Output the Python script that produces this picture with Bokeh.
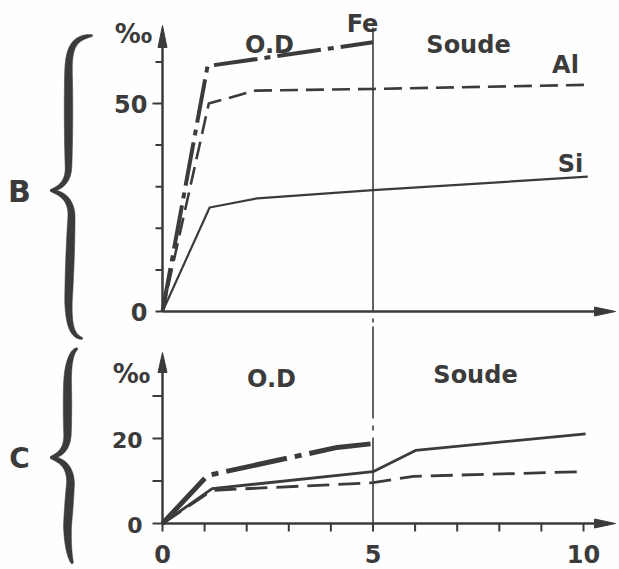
import numpy as np
from bokeh.plotting import figure
from bokeh.models import Range1d
from bokeh.core.properties import value
from bokeh.embed import file_html
from bokeh.resources import INLINE

# ---------------------------------------------------------------- data
# Panel B (per mille) versus treatment step
b_fe_x = [0, 1.07, 5]
b_fe_y = [0, 59, 64.7]
b_al_x = [0, 1.1, 2.2, 5, 10.1]
b_al_y = [0, 50, 53.1, 53.5, 54.5]
b_si_x = [0, 1.12, 2.25, 5, 10.1]
b_si_y = [0, 25, 27.2, 29.2, 32.4]

# Panel C (per mille) versus treatment step
c_fe_x = [0, 1.07, 4.15, 5]
c_fe_y = [0, 11.3, 17.9, 18.8]
c_al_x = [0, 1.18, 5, 5.96, 10]
c_al_y = [0, 7.8, 9.6, 11.1, 12.2]
c_si_x = [0, 1.18, 5, 6.01, 10.05]
c_si_y = [0, 8.2, 12.2, 17.2, 21.1]

# phase boundary (O.D | Soude)
boundary_x = 5

# ticks and tick labels
b_yticks = [0, 10, 20, 30, 40, 50, 60]
b_ytick_labels = ["0", "50"]
b_ytick_label_vals = [0, 50]
c_yticks = [0, 10, 20, 30]
c_ytick_labels = ["0", "20"]
c_ytick_label_vals = [0, 20]
c_xticks = [0, 1, 2, 3, 4, 5, 6, 7, 8, 9, 10]
c_xtick_labels = ["0", "5", "10"]
c_xtick_label_vals = [0, 5, 10]

# ---------------------------------------------------------------- layout
W, H = 619, 569
X0, SX = 162.0, 42.1        # pixel of x=0, pixels per unit
Y0B, SYB = 311.0, 4.16      # panel B baseline, pixels per unit
Y0C, SYC = 523.0, 4.25      # panel C baseline, pixels per unit
INK = "#3b3b3b"
FONT = value("DejaVu Sans")

def xp(px):
    return (px - X0) / SX

def yb(py):
    return (Y0B - py) / SYB

def yc(py):
    return (Y0C - py) / SYC

p = figure(width=W, height=H, output_backend="svg", toolbar_location=None,
           x_axis_type=None, y_axis_type=None, min_border=0,
           x_range=Range1d(-X0 / SX, (W - X0) / SX),
           y_range=Range1d((Y0B - H) / SYB, Y0B / SYB))
p.extra_y_ranges = {"c": Range1d((Y0C - H) / SYC, Y0C / SYC)}
p.outline_line_color = None
p.background_fill_color = "#fefefe"
p.border_fill_color = "#fefefe"

x_tip = xp(615)
x_base = xp(594)
b_ytop, b_ybase = yb(25), yb(47)
c_ytop, c_ybase = yc(352), yc(372)

# ---------------------------------------------------------------- axes
# panel B axes
p.segment(x0=[0, 0], y0=[0, 0], x1=[x_base, 0], y1=[0, b_ybase],
          line_color=INK, line_width=2.5)
# panel C axes
p.segment(x0=[0, 0], y0=[0, 0], x1=[x_base, 0], y1=[0, c_ybase],
          line_color=INK, line_width=2.5, y_range_name="c")

hw_x = 4.5 / SX
p.patches(xs=[[0 - hw_x, 0, 0 + hw_x], [x_base, x_tip, x_base]],
          ys=[[b_ybase, b_ytop, b_ybase], [4.5 / SYB, 0, -4.5 / SYB]],
          fill_color=INK, line_color=INK, line_width=1)
p.patches(xs=[[0 - hw_x, 0, 0 + hw_x], [x_base, x_tip, x_base]],
          ys=[[c_ybase, c_ytop, c_ybase], [4.5 / SYC, 0, -4.5 / SYC]],
          fill_color=INK, line_color=INK, line_width=1, y_range_name="c")

# tick marks
bt_len = [10 / SX if v == 50 else 7 / SX for v in b_yticks]
p.segment(x0=[-l for l in bt_len], y0=b_yticks, x1=[0] * len(b_yticks),
          y1=b_yticks, line_color=INK, line_width=2)
p.segment(x0=[-10 / SX] * len(c_yticks), y0=c_yticks,
          x1=[0] * len(c_yticks), y1=c_yticks, line_color=INK, line_width=2,
          y_range_name="c")
p.segment(x0=c_xticks, y0=[0] * len(c_xticks), x1=c_xticks,
          y1=[-8 / SYC] * len(c_xticks), line_color=INK, line_width=2,
          y_range_name="c")

# tick labels
p.text(x=[0] * 2, y=b_ytick_label_vals, text=b_ytick_labels, x_offset=-15,
       text_align="right", text_baseline="middle", text_font=FONT,
       text_font_style="bold", text_font_size="24px", text_color=INK)
p.text(x=[0] * 2, y=c_ytick_label_vals, text=c_ytick_labels, x_offset=-20,
       y_offset=1, text_align="right", text_baseline="middle", text_font=FONT,
       text_font_style="bold", text_font_size="22px", text_color=INK,
       y_range_name="c")
p.text(x=c_xtick_label_vals, y=[0] * 3, text=c_xtick_labels, y_offset=30,
       text_align="center", text_baseline="middle", text_font=FONT,
       text_font_style="bold", text_font_size="24px", text_color=INK,
       y_range_name="c")

# ---------------------------------------------------------------- boundary
p.segment(x0=[boundary_x], y0=[0], x1=[boundary_x], y1=[yb(27)],
          line_color=INK, line_width=1.6)
p.segment(x0=[boundary_x] * 4,
          y0=[yc(318), yc(326), yc(425), yc(437)],
          x1=[boundary_x] * 4,
          y1=[yc(322), yc(418), yc(430), 0],
          line_color=INK, line_width=1.6, y_range_name="c")

# ---------------------------------------------------------------- series
p.line(b_si_x, b_si_y, line_color=INK, line_width=2.2, line_join="round")
p.line(b_al_x, b_al_y, line_color=INK, line_width=2.6, line_dash="18 8",
       line_join="round")
p.line(b_fe_x, b_fe_y, line_color=INK, line_width=4, line_dash="44 7 6 7",
       line_join="round")

p.line(c_si_x, c_si_y, line_color=INK, line_width=2.8, line_join="round",
       y_range_name="c")
p.line(c_al_x, c_al_y, line_color=INK, line_width=2.8, line_dash="22 9",
       line_join="round", y_range_name="c")
p.line(c_fe_x, c_fe_y, line_color=INK, line_width=5, line_dash="62 8 7 8",
       line_join="round", y_range_name="c")

# ---------------------------------------------------------------- labels
def label(px, py, txt, size, align="center"):
    p.text(x=[xp(px)], y=[yb(py)], text=[txt], text_align=align,
           text_baseline="middle", text_font=FONT, text_font_style="bold",
           text_font_size=size, text_color=INK)

label(269, 44, "O.D", "24px")
label(468, 44, "Soude", "24px")
label(362, 23, "Fe", "24px")
label(565, 64, "Al", "24px")
label(570, 163, "Si", "24px")
label(133, 33, "‰", "26px")
label(271, 378, "O.D", "24px")
label(475, 374, "Soude", "24px")
label(131, 373, "‰", "26px")
label(19, 191, "B", "30px")
label(19, 458, "C", "28px")

# ---------------------------------------------------------------- braces
def cubic(p0, p1, p2, p3, n=30):
    t = np.linspace(0, 1, n)[:, None]
    p0, p1, p2, p3 = (np.array(q, float) for q in (p0, p1, p2, p3))
    return ((1 - t) ** 3 * p0 + 3 * (1 - t) ** 2 * t * p1
            + 3 * (1 - t) * t ** 2 * p2 + t ** 3 * p3)

def line_pts(a, b, n=20):
    t = np.linspace(0, 1, n)[:, None]
    return (1 - t) * np.array(a, float) + t * np.array(b, float)

def ribbon(path, wmax):
    d = np.diff(path, axis=0)
    s = np.concatenate([[0], np.cumsum(np.hypot(d[:, 0], d[:, 1]))])
    s = s / s[-1]
    tx, ty = np.gradient(path[:, 0]), np.gradient(path[:, 1])
    nrm = np.hypot(tx, ty)
    nx, ny = -ty / nrm, tx / nrm
    w = 1.4 + (wmax - 1.4) * np.sin(np.pi * s) ** 0.5
    left = path + np.c_[nx, ny] * w[:, None] / 2
    right = path - np.c_[nx, ny] * w[:, None] / 2
    poly = np.vstack([left, right[::-1]])
    return [xp(v) for v in poly[:, 0]], [yb(v) for v in poly[:, 1]]

def brace(top, vx, tip, bottom, wmax=8.5):
    xe, yt = top
    xt, ym = tip
    xe2, ybt = bottom
    upper = np.vstack([
        cubic((xe, yt), (vx + 5, yt + 2), (vx, yt + 12), (vx, yt + 38)),
        line_pts((vx, yt + 38), (vx, ym - 24)),
        cubic((vx, ym - 24), (vx, ym - 8), (xt + 9, ym - 2), (xt, ym)),
    ])
    lower = np.vstack([
        cubic((xt, ym), (xt + 9, ym + 2), (vx + 3, ym + 7), (vx + 3, ym + 26)),
        line_pts((vx + 3, ym + 26), (vx, ybt - 38)),
        cubic((vx, ybt - 38), (vx, ybt - 12), (vx + 4, ybt - 2), (xe2, ybt)),
    ])
    xs, ys = [], []
    for arm in (upper, lower):
        bx, by = ribbon(arm, wmax)
        xs.append(bx)
        ys.append(by)
    p.patches(xs=xs, ys=ys, fill_color=INK, line_color=INK, line_width=0.5)

brace((92, 35), 68, (50, 190), (82, 338))
brace((77, 348), 67, (50, 457), (72, 563))

open("out.html", "w").write(file_html(p, INLINE))
